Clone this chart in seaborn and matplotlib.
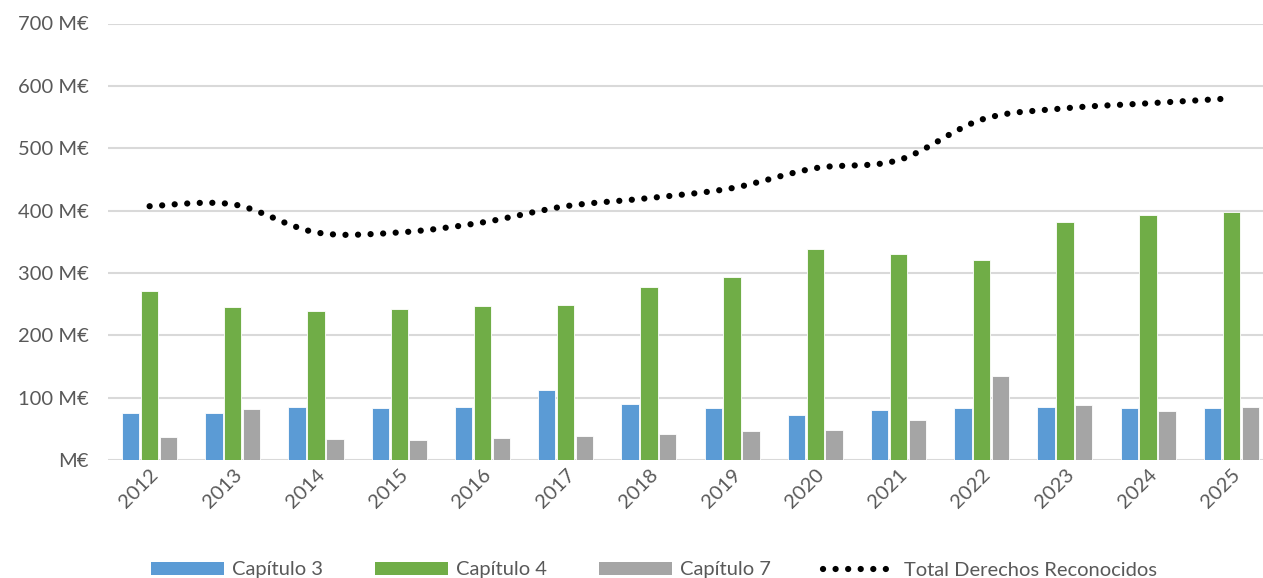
import matplotlib
matplotlib.use("Agg")
import matplotlib.pyplot as plt
import seaborn as sns
import pandas as pd
import numpy as np
from matplotlib.path import Path
from matplotlib.patches import PathPatch, Patch
from matplotlib.lines import Line2D
from matplotlib.ticker import FuncFormatter

years = [str(y) for y in range(2012, 2026)]
cap3 = [75, 76, 85, 83, 85, 112, 90, 83, 72, 80, 83, 85, 83, 83]
cap4 = [271, 245, 239, 242, 247, 249, 277, 293, 339, 330, 320, 381, 393, 397]
cap7 = [37, 82, 34, 32, 35, 38, 42, 46, 48, 64, 135, 88, 79, 85]
total = [407, 410, 365, 365, 381, 407, 420, 436, 468, 481, 546, 564, 572, 580]
series_names = ["Capítulo 3", "Capítulo 4", "Capítulo 7"]
line_name = "Total Derechos Reconocidos"
yticks = [0, 100, 200, 300, 400, 500, 600, 700]

colors = ["#5B9BD5", "#70AD47", "#A5A5A5"]
txt = "#595959"

sns.set_theme(style="white")
plt.rcParams["font.family"] = ["Lato", "DejaVu Sans"]

df = pd.DataFrame({"year": years * 3,
                   "value": cap3 + cap4 + cap7,
                   "serie": sum([[n] * len(years) for n in series_names], [])})

fig = plt.figure(figsize=(12.63, 5.78), dpi=100)
ax = fig.add_axes([108 / 1263, (578 - 460) / 578, (1263 - 108) / 1263, (460 - 23.5) / 578])

sns.barplot(data=df, x="year", y="value", hue="serie", palette=colors, saturation=1,
            width=0.68, gap=0.08, ax=ax, legend=False, edgecolor="white", linewidth=0.6,
            zorder=3)

# smooth (Excel-like) line via Bezier segments
xs = np.arange(len(total), dtype=float)
ys = np.array(total, dtype=float)
verts = [(xs[0], ys[0])]
codes = [Path.MOVETO]
n = len(xs)
for i in range(n - 1):
    p0 = np.array([xs[max(i - 1, 0)], ys[max(i - 1, 0)]])
    p1 = np.array([xs[i], ys[i]])
    p2 = np.array([xs[i + 1], ys[i + 1]])
    p3 = np.array([xs[min(i + 2, n - 1)], ys[min(i + 2, n - 1)]])
    c1 = p1 + (p2 - p0) / 6
    c2 = p2 - (p3 - p1) / 6
    verts += [tuple(c1), tuple(c2), tuple(p2)]
    codes += [Path.CURVE4] * 3
patch = PathPatch(Path(verts, codes), fill=False, edgecolor="black", linewidth=4.5,
                  linestyle=(0, (0.01, 2.0)), capstyle="round", zorder=4)
ax.add_patch(patch)

ax.set_ylim(0, 700)
ax.set_xlim(-0.5, 13.38)
ax.set_yticks(yticks)
ax.yaxis.set_major_formatter(FuncFormatter(lambda v, p: "M€" if v == 0 else f"{v:.0f} M€"))
ax.yaxis.grid(True, color="#D9D9D9", linewidth=1.5, zorder=0)
ax.set_axisbelow(True)
for s in ax.spines.values():
    s.set_visible(False)
ax.set_xlabel("")
ax.set_ylabel("")
ax.tick_params(axis="y", labelsize=14.5, colors=txt, pad=14, length=0)
ax.tick_params(axis="x", labelsize=14.5, colors=txt, length=0, pad=4)
for lab in ax.get_xticklabels():
    lab.set_rotation(45)
    lab.set_ha("right")
    lab.set_rotation_mode("anchor")

handles = [Patch(facecolor=c, edgecolor="none") for c in colors]
handles.append(Line2D([0], [0], color="black", linewidth=4.5, linestyle=(0, (0.01, 2.0)),
                      dash_capstyle="round"))
fig.legend(handles, series_names + [line_name], loc="center", ncol=4,
           bbox_to_anchor=(654 / 1263, 8 / 578), frameon=False, fontsize=14.5,
           handlelength=3.6, handleheight=0.6, handletextpad=0.4, columnspacing=2.6,
           labelcolor=txt)

fig.savefig("out.png", dpi=100)
